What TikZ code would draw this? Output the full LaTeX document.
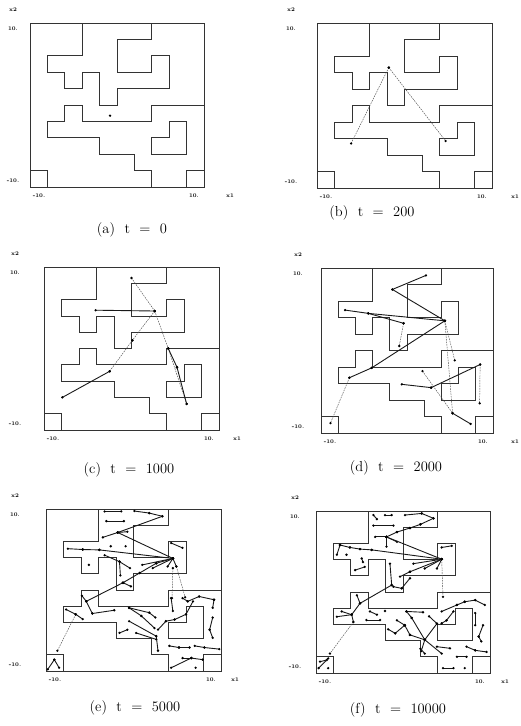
\documentclass[tikz,border=0pt]{standalone}
\usetikzlibrary{positioning}
\tikzset{
  wall/.style={line width=0.7pt, black!80},
  link/.style={line width=0.9pt, black!90},
  weak/.style={line width=0.45pt, black!70, dash pattern=on 1.6pt off 1pt},
  axlab/.style={font=\fontsize{5.5}{5.5}\selectfont\bfseries, inner sep=0pt},
  capt/.style={font=\fontsize{14.5}{16}\selectfont, inner sep=0pt},
}
\newcommand\capsep{\hspace{0.65em}}
% walls of the maze, in units -10..10
\newcommand\mazewalls{%
  \draw[wall] (-10,-10) rectangle (10,10);
  \draw[wall] (-4,10) -- (-4,6) -- (-8,6) -- (-8,4) -- (-6,4) -- (-6,2) -- (-4,2) -- (-4,4)
    -- (-2,4) -- (-2,0) -- (0,0) -- (0,2) -- (6,2) -- (6,6) -- (4,6) -- (4,4) -- (0,4)
    -- (0,8) -- (4,8) -- (4,10);
  \draw[wall] (10,0) -- (4,0) -- (4,-2) -- (-4,-2) -- (-4,0) -- (-6,0) -- (-6,-2) -- (-8,-2)
    -- (-8,-4) -- (-2,-4) -- (-2,-6) -- (2,-6) -- (2,-8) -- (4,-8) -- (4,-10);
  \draw[wall] (4,-4) -- (6,-4) -- (6,-2) -- (8,-2) -- (8,-6) -- (4,-6) -- cycle;
  \draw[wall] (-10,-8) -- (-8,-8) -- (-8,-10);
  \draw[wall] (8,-10) -- (8,-8) -- (10,-8);
}
% #1: shift of the left labels, #2: shift of x1
\newcommand\axislabels[2]{%
  \node[axlab, xshift=#1pt, yshift=13pt] (xtwo) at (-10,10) {x2};
  \node[axlab, xshift=#1pt, yshift=-6pt] (ytop) at (-10,10) {10.};
  \node[axlab, xshift=#1pt, yshift=6pt] (ybot) at (-10,-10) {-10.};
  \node[axlab, xshift=9pt, yshift=-9pt] (xlo) at (-10,-10) {-10.};
  \node[axlab, xshift=-10pt, yshift=-9pt] (xhi) at (10,-10) {10.};
  \node[axlab, xshift=#2pt, yshift=-9pt] (xone) at (10,-10) {x1};
}
\newcommand\treelinks[2][link]{%
  \foreach \xa/\ya/\xb/\yb in {#2}{
    \draw[#1] (\xa,\ya) -- (\xb,\yb);
    \fill (\xa,\ya) circle (1.3pt) (\xb,\yb) circle (1.3pt);
  }%
}

\begin{document}
\begin{tikzpicture}[x=1pt,y=-1pt]
\useasboundingbox (0,0) rectangle (521,726);

% (a)
\begin{scope}[shift={(117,105)}, x=8.7pt, y=8.2pt]
  \mazewalls
  \axislabels{-17}{26}
  \fill (-0.8,-1.3) circle (1.3pt);
\end{scope}
\node[capt] (capa) at (132,230) {(a)\capsep t\capsep =\capsep 0};

% (b)
\begin{scope}[shift={(404.5,105.5)}, x=8.75pt, y=8.25pt]
  \mazewalls
  \axislabels{-26}{23}
  \treelinks[weak]{-1.8/4.6/-6.1/-4.6, -1.8/4.6/4.7/-4.3}
\end{scope}
\node[capt] (capb) at (372,213) {(b)\capsep t\capsep =\capsep 200};

% (c)
\begin{scope}[shift={(131.5,348.5)}, x=8.75pt, y=8.15pt]
  \mazewalls
  \axislabels{-29}{18}
  \treelinks[weak]{0/8.65/2.65/4.6, 2.65/4.6/0.1/1.0, 0.1/1.0/-2.5/-2.8,
    2.65/4.6/4.2/0, 4.2/0/6.3/-6.8}
  \treelinks{-4.1/4.7/2.65/4.6, -2.5/-2.8/-7.9/-6.0, 4.2/0/5.2/-2.3, 5.2/-2.3/6.3/-6.8}
\end{scope}
\node[capt] (capc) at (129,470) {(c)\capsep t\capsep =\capsep 1000};

% (d)
\begin{scope}[shift={(407,350.5)}, x=8.6pt, y=8.25pt]
  \mazewalls
  \axislabels{-23}{22}
  \treelinks[weak]{-0.4/3.3/-0.9/0.55, -6.7/-3.3/-8.9/-8.8, 4.4/3.6/5.55/-1.2,
    4.4/3.6/5.3/-7.6, 1.8/-2.5/5.3/-7.6, 8.5/-1.7/8.45/-6.4}
  \treelinks{-1.7/7.4/2.2/9.1, -1.7/7.4/4.4/3.6, -7.2/4.9/-4.5/4.5, -4.5/4.5/4.4/3.6,
    -4.5/4.5/-0.4/3.3, -6.7/-3.3/-4.1/-2.1, -4.1/-2.1/4.4/3.6, 5.3/-7.6/7.4/-8.9,
    -0.6/-4.1/2.8/-4.5, 2.8/-4.5/8.5/-1.7}
\end{scope}
\node[capt] (capd) at (396,468) {(d)\capsep t\capsep =\capsep 2000};

% (e)
\begin{scope}[shift={(133.5,590)}, x=8.75pt, y=8.1pt]
  \mazewalls
  \axislabels{-31}{14}
  \treelinks[weak]{-6.6/-3.0/-8.7/-7.5, 4.9/2.9/5.9/-0.9, 4.5/2.7/4.4/-1.0}
  \treelinks{-3.3/9.7/-1.4/9.7, 0.1/9.75/1.8/9.5, 1.8/9.5/3.3/9.1, -3.1/8.5/-1.1/8.5,
    -3.5/6.5/-1.8/7.1, -1.8/7.1/3.3/9.1, -1.8/7.1/-0.7/7.2, -1.8/7.1/4.5/3.9,
    4.3/5.8/5.6/5.2, -7.5/5.1/-5.8/5.0, -5.8/5.0/-3.9/4.95, -3.9/4.95/4.5/3.9,
    -3.3/4.3/-1.6/3.5, -1.6/3.5/-0.4/2.7, -1.6/3.5/-1.5/1.8, 4.5/3.9/1.0/3.1,
    4.5/3.9/2.2/2.7, 4.5/3.9/3.9/2.9, 4.5/3.9/4.9/2.9, 0.7/2.1/2.6/3.3,
    2.6/3.3/4.5/3.9, -1.2/0.9/0.7/2.1, -1.2/0.9/-0.3/0.45, -5.4/-1.4/-1.2/0.9,
    -5.9/-0.7/-5.4/-1.4, -7.7/-2.4/-6.6/-3.0, -6.6/-3.0/-5.8/-3.6, -5.4/-1.4/-4.7/-2.9,
    -4.7/-2.9/-2.2/-2.5, -9.8/-9.8/-9.05/-8.6, -9.05/-8.6/-8.5/-9.6,
    -0.5/-2.2/1.8/-2.8, 1.8/-2.8/2.5/-3.4, -0.5/-2.2/0.9/-3.2, 0.9/-3.2/2.4/-4.7,
    -0.5/-3.85/2.6/-5.7, 2.6/-5.7/2.8/-7.5, -1.6/-5.3/-0.7/-4.9, 0.3/-5.3/2.6/-6.1,
    2.8/-4.9/3.7/-3.85, 3.7/-3.85/4.7/-3.65, 4.7/-3.65/6.0/-3.0, 6.0/-3.0/6.8/-1.4,
    4.3/-1.0/4.5/-2.6, 5.6/-1.0/6.2/-1.4, 6.2/-1.4/7.5/-0.8, 7.5/-0.8/9.2/-1.2,
    9.2/-1.2/9.05/-2.2, 9.05/-3.4/8.7/-4.9, 8.7/-4.9/9.05/-5.9, 4.1/-6.9/5.2/-7.1,
    5.2/-7.1/6.4/-7.1, 7.0/-6.9/8.1/-7.1, 8.1/-7.1/9.8/-7.3, 4.3/-9.6/6.6/-8.4,
    6.6/-8.4/7.9/-8.6, 5.6/-8.4/6.6/-8.4}
  \fill (-2.6,5.4) circle (1.3pt) (-0.9,5.4) circle (1.3pt) (-5.1,3.1) circle (1.3pt)
    (7.1,-9.6) circle (1.3pt);
\end{scope}
\node[capt] (cape) at (135,708) {(e)\capsep t\capsep =\capsep 5000};

% (f)
\begin{scope}[shift={(403,592)}, x=8.7pt, y=8.1pt]
  \mazewalls
  \axislabels{-21}{15}
  \treelinks[weak]{-5.7/-3.7/-8.4/-7.6, 4.45/4.05/4.6/-0.6}
  \treelinks{-3.4/9.5/-3.0/9.0, -2.07/9.5/-1.3/9.5, 0.23/9.5/2.15/9.7, 2.15/9.7/3.5/9.1,
    3.5/9.1/2.0/8.35, 2.0/8.35/0.8/7.9, 0.8/7.9/-0.7/7.4, -0.7/7.4/-1.9/6.8,
    -3.4/8.2/-1.1/8.2, -3.2/6.8/-1.9/6.8, -1.9/6.8/-0.7/6.2, -1.9/6.8/4.45/4.05,
    -1.9/6.8/-1.9/5.6, 4.45/5.5/5.6/5.7, -7.24/5.8/-6.1/5.5, -6.1/5.5/-4.94/5.3,
    -4.94/5.3/-3.6/5.2, -3.6/5.2/4.45/4.05, -7.6/4.6/-7.24/5.8, -4.75/4.15/-4.6/3.7,
    -5.5/2.7/-4.4/3.1, 4.45/4.05/1.2/3.5, 4.45/4.05/2.5/2.9, 4.45/4.05/3.9/2.9,
    -1.5/3.5/-1.3/0.86, -0.34/1.9/0.8/2.5, 0.8/2.5/4.45/4.05, -1.1/0.66/-0.15/0.45,
    -0.15/0.45/0.8/1.7, -4.94/-1.4/-1.3/0.86, -5.3/-0.4/-4.94/-1.4, -4.94/-1.4/-5.9/-2.8,
    -7.05/-2.4/-5.9/-2.8, -7.6/-3.05/-5.9/-2.8, -5.9/-2.8/-5.7/-3.7,
    -9.54/-8.6/-8.77/-8.4, -9.7/-9.4/-8.6/-8.2, -4.2/-3.46/-2.64/-3.46,
    -3.8/-2.4/-3.0/-2.8, 0.4/-2.4/2.3/-2.5, 0.4/-2.4/1.0/-3.2, -0.7/-3.5/0.2/-4.1,
    -0.9/-5.1/0.2/-4.1, 0.2/-4.1/0.8/-5.3, 0.8/-5.3/2.5/-5.9, 1.0/-3.2/2.5/-5.9,
    2.5/-5.9/3.9/-3.9, 2.5/-5.9/4.45/-7.6, 2.5/-5.9/2.1/-7.3, 3.0/-3.0/3.9/-3.9,
    4.44/-3.87/5.0/-3.5, 5.0/-3.5/5.8/-2.4, 4.44/-2.4/6.2/-1.6, 6.2/-1.6/7.1/-1.2,
    7.1/-1.2/8.3/-1.0, 8.3/-1.0/9.4/-1.6, 8.3/-2.6/8.3/-4.1, 9.2/-4.1/8.7/-5.5,
    8.7/-5.5/9.0/-6.1, 3.9/-6.75/5.4/-6.95, 6.2/-8.0/7.3/-8.0, 4.6/-9.4/5.8/-9.4,
    7.3/-6.75/8.3/-7.2, 8.3/-7.2/9.6/-7.4, 2.0/-7.0/2.5/-7.6, -1.7/-4.6/-0.9/-5.1}
  \fill (-6.5,4.6) circle (1.3pt) (-8.6,-9.4) circle (1.3pt) (-2.07,-2.35) circle (1.3pt)
    (7.1,-9.4) circle (1.3pt);
\end{scope}
\node[capt] (capf) at (398,710) {(f)\capsep t\capsep =\capsep 10000};
\end{tikzpicture}
\end{document}
